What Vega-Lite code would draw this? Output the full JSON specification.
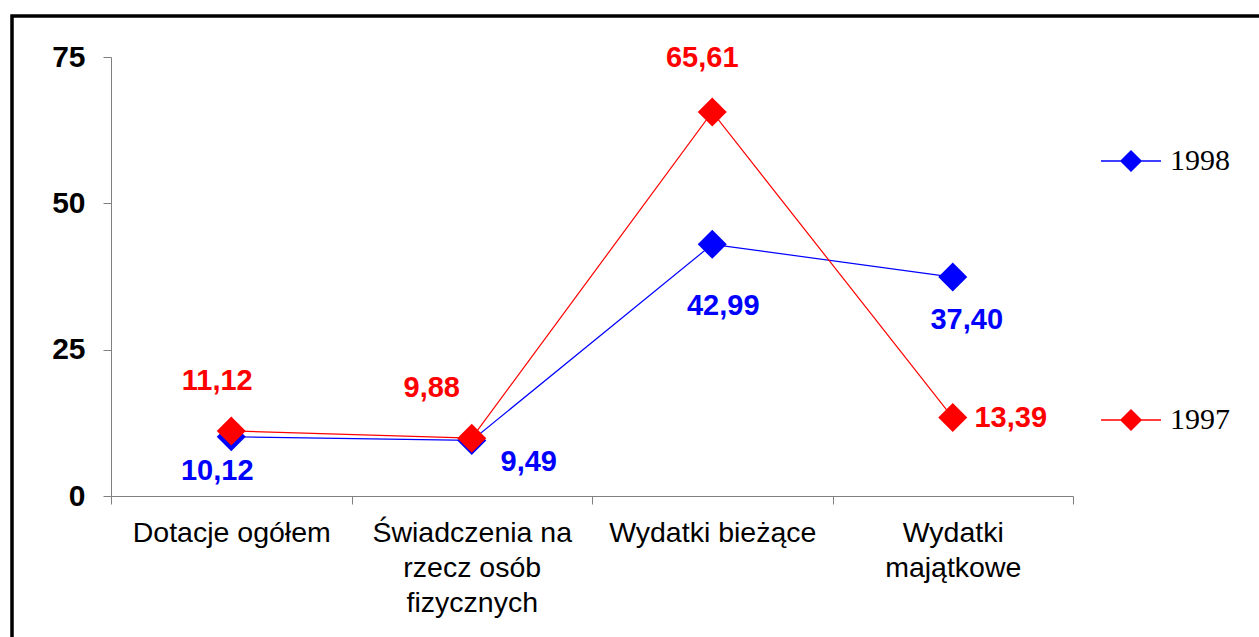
{
  "$schema": "https://vega.github.io/schema/vega-lite/v6.json",
  "width": 1260,
  "height": 630,
  "autosize": {"type": "none"},
  "padding": {"left": 12, "top": 16, "right": 0, "bottom": 0},
  "background": "white",
  "config": {
    "locale": {"number": {"decimal": ",", "thousands": " ", "grouping": [3], "currency": ["", " zł"]}},
    "view": {"stroke": "black", "strokeWidth": 3.5},
    "font": "Liberation Sans"
  },
  "data": {
    "values": [
      {"kategoria": "Dotacje ogółem", "rok": "1998", "wartosc": 10.12},
      {"kategoria": "Świadczenia na rzecz osób fizycznych", "rok": "1998", "wartosc": 9.49},
      {"kategoria": "Wydatki bieżące", "rok": "1998", "wartosc": 42.99},
      {"kategoria": "Wydatki majątkowe", "rok": "1998", "wartosc": 37.40},
      {"kategoria": "Dotacje ogółem", "rok": "1997", "wartosc": 11.12},
      {"kategoria": "Świadczenia na rzecz osób fizycznych", "rok": "1997", "wartosc": 9.88},
      {"kategoria": "Wydatki bieżące", "rok": "1997", "wartosc": 65.61},
      {"kategoria": "Wydatki majątkowe", "rok": "1997", "wartosc": 13.39}
    ]
  },
  "encoding": {
    "x": {
      "field": "kategoria",
      "type": "nominal",
      "sort": null,
      "scale": {"type": "band", "range": [99, 1061], "paddingInner": 0, "paddingOuter": 0},
      "axis": {
        "title": null,
        "orient": "bottom",
        "offset": -150,
        "tickBand": "extent",
        "labelAngle": 0,
        "domainColor": "#808080",
        "tickColor": "#808080",
        "tickSize": 8,
        "labelFont": "Liberation Sans",
        "labelFontSize": 28.5,
        "labelColor": "black",
        "labelPadding": 14,
        "labelLineHeight": 35,
        "labelBaseline": "top",
        "labelLimit": 400,
        "labelExpr": "datum.label == 'Świadczenia na rzecz osób fizycznych' ? ['Świadczenia na', 'rzecz osób', 'fizycznych'] : datum.label == 'Wydatki majątkowe' ? ['Wydatki', 'majątkowe'] : datum.label"
      }
    },
    "y": {
      "field": "wartosc",
      "type": "quantitative",
      "scale": {"domain": [0, 75], "range": [480, 41], "nice": false, "zero": true},
      "axis": {
        "title": null,
        "orient": "left",
        "offset": -99,
        "values": [0, 25, 50, 75],
        "format": "d",
        "grid": false,
        "domainColor": "#808080",
        "tickColor": "#808080",
        "tickSize": 8,
        "labelFont": "Liberation Sans",
        "labelFontSize": 30,
        "labelFontWeight": "bold",
        "labelColor": "black",
        "labelPadding": 18
      }
    },
    "color": {
      "field": "rok",
      "type": "nominal",
      "scale": {"domain": ["1998", "1997"], "range": ["#0000ff", "#ff0000"]},
      "legend": {
        "title": null,
        "orient": "none",
        "legendX": 1088,
        "legendY": 114,
        "symbolType": "M-1,0L1,0M-0.333,0L0,-0.333L0.333,0L0,0.333Z",
        "symbolSize": 3600,
        "symbolStrokeWidth": 1.5,
        "symbolOpacity": 1,
        "labelFont": "Liberation Serif",
        "labelFontSize": 30,
        "labelColor": "black",
        "labelOffset": 8,
        "rowPadding": 213,
        "encode": {
          "symbols": {"update": {"stroke": {"scale": "color", "field": "value"}, "fill": {"scale": "color", "field": "value"}}}
        }
      }
    }
  },
  "layer": [
    {
      "mark": {"type": "line", "strokeWidth": 1.2}
    },
    {
      "mark": {"type": "point", "shape": "diamond", "filled": true, "size": 841, "opacity": 1}
    },
    {
      "transform": [{"filter": "datum.rok == '1998' && datum.kategoria == 'Dotacje ogółem'"}],
      "mark": {"type": "text", "font": "Liberation Sans", "fontSize": 29, "fontWeight": "bold", "dx": -14, "dy": 34},
      "encoding": {"text": {"field": "wartosc", "type": "quantitative", "format": ".2f"}}
    },
    {
      "transform": [{"filter": "datum.rok == '1997' && datum.kategoria == 'Dotacje ogółem'"}],
      "mark": {"type": "text", "font": "Liberation Sans", "fontSize": 29, "fontWeight": "bold", "dx": -14, "dy": -50},
      "encoding": {"text": {"field": "wartosc", "type": "quantitative", "format": ".2f"}}
    },
    {
      "transform": [{"filter": "datum.rok == '1998' && datum.kategoria == 'Świadczenia na rzecz osób fizycznych'"}],
      "mark": {"type": "text", "font": "Liberation Sans", "fontSize": 29, "fontWeight": "bold", "dx": 57, "dy": 22},
      "encoding": {"text": {"field": "wartosc", "type": "quantitative", "format": ".2f"}}
    },
    {
      "transform": [{"filter": "datum.rok == '1997' && datum.kategoria == 'Świadczenia na rzecz osób fizycznych'"}],
      "mark": {"type": "text", "font": "Liberation Sans", "fontSize": 29, "fontWeight": "bold", "dx": -40, "dy": -50},
      "encoding": {"text": {"field": "wartosc", "type": "quantitative", "format": ".2f"}}
    },
    {
      "transform": [{"filter": "datum.rok == '1998' && datum.kategoria == 'Wydatki bieżące'"}],
      "mark": {"type": "text", "font": "Liberation Sans", "fontSize": 29, "fontWeight": "bold", "dx": 11, "dy": 62},
      "encoding": {"text": {"field": "wartosc", "type": "quantitative", "format": ".2f"}}
    },
    {
      "transform": [{"filter": "datum.rok == '1997' && datum.kategoria == 'Wydatki bieżące'"}],
      "mark": {"type": "text", "font": "Liberation Sans", "fontSize": 29, "fontWeight": "bold", "dx": -10, "dy": -54},
      "encoding": {"text": {"field": "wartosc", "type": "quantitative", "format": ".2f"}}
    },
    {
      "transform": [{"filter": "datum.rok == '1998' && datum.kategoria == 'Wydatki majątkowe'"}],
      "mark": {"type": "text", "font": "Liberation Sans", "fontSize": 29, "fontWeight": "bold", "dx": 14, "dy": 43},
      "encoding": {"text": {"field": "wartosc", "type": "quantitative", "format": ".2f"}}
    },
    {
      "transform": [{"filter": "datum.rok == '1997' && datum.kategoria == 'Wydatki majątkowe'"}],
      "mark": {"type": "text", "font": "Liberation Sans", "fontSize": 29, "fontWeight": "bold", "dx": 58, "dy": 0},
      "encoding": {"text": {"field": "wartosc", "type": "quantitative", "format": ".2f"}}
    }
  ]
}
